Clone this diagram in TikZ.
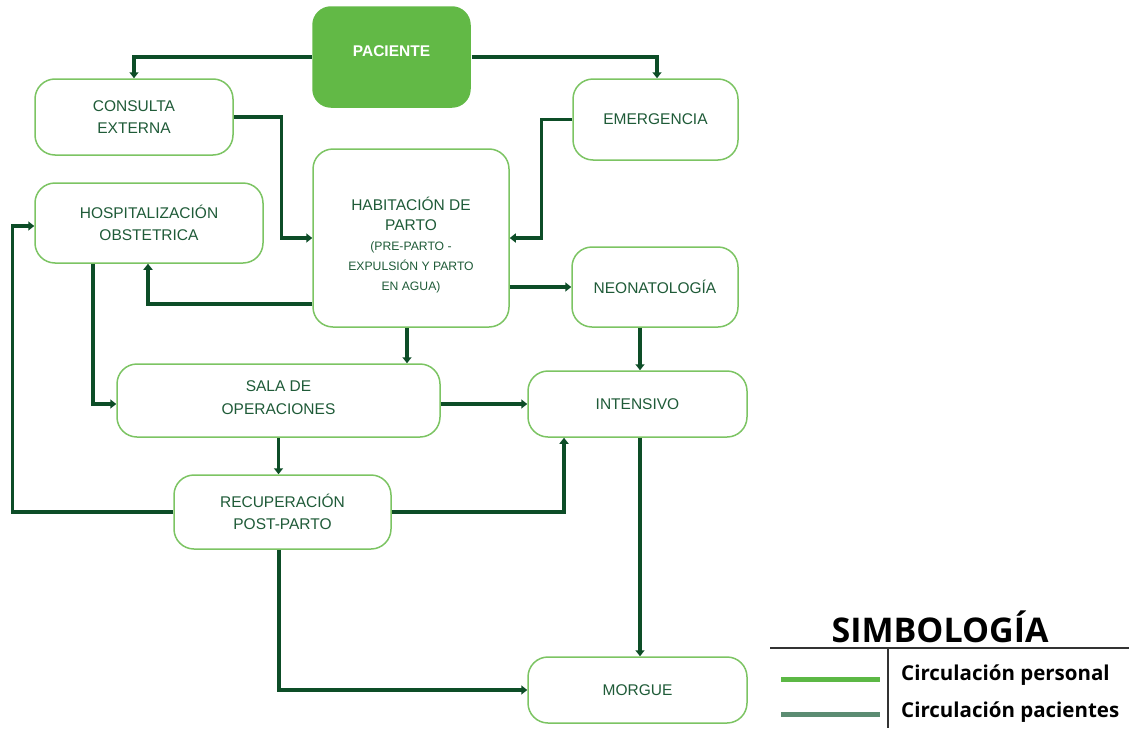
\documentclass[tikz,border=0pt]{standalone}
\usepackage{fontspec}
\setmainfont{Liberation Sans}
\newfontfamily\legendfont{Open Sans}
\usetikzlibrary{arrows.meta,calc}
\definecolor{boxline}{HTML}{7CC463}
\definecolor{boxfill}{HTML}{62B946}
\definecolor{flow}{HTML}{0D4D27}
\definecolor{txt}{HTML}{1F5B38}
\definecolor{staff}{HTML}{5CB845}
\definecolor{patient}{HTML}{5B8C72}
\definecolor{rule}{HTML}{333333}
% shift a label vertically inside its box while keeping the box itself in place
\newcommand\shiftlabel[2]{\raisebox{#1}[\dimexpr\height-(#1)\relax][\dimexpr\depth-(#1)\relax]{#2}}
\tikzset{
  area/.style={draw=boxline, line width=1.5pt, rounded corners=20pt, fill=white,
    align=center, text=txt, inner sep=0pt, font=\fontsize{15.5}{22.5}\selectfont},
  mainarea/.style={area, draw=boxfill, fill=boxfill, rounded corners=18pt, text=white,
    font=\fontsize{15.5}{18}\selectfont\bfseries},
  flowline/.style={draw=flow, line width=3.2pt,
    -{Triangle[width=9pt,length=6pt]}},
  keyline/.style={line width=5pt},
  keyrule/.style={draw=rule, line width=1.5pt},
  keytext/.style={font=\legendfont\fontsize{20.5}{22}\selectfont\bfseries, anchor=west, inner sep=0pt}
}
\begin{document}
\begin{tikzpicture}[x=1pt,y=-1pt]
\useasboundingbox (0,0) rectangle (1129,728);

% areas of the unit
\node[mainarea, minimum width=157pt, minimum height=100pt] (pac) at (391.5,57) {\shiftlabel{4pt}{PACIENTE}};
\node[area, minimum width=198pt, minimum height=76pt] (cons) at (134,117) {CONSULTA\\EXTERNA};
\node[area, minimum width=165pt, minimum height=81pt] (emer) at (655.5,119.5) {EMERGENCIA};
\node[area, minimum width=228pt, minimum height=80pt] (hosp) at (149,223) {HOSPITALIZACIÓN\\OBSTETRICA};
\node[area, minimum width=196pt, minimum height=178pt] (hab) at (411,238)
  {\fontsize{15.5}{20}\selectfont\shiftlabel{-8pt}{\begin{tabular}{@{}c@{}}HABITACIÓN DE\\
   PARTO\\
   \fontsize{12.2}{20}\selectfont (PRE-PARTO -\\
   \fontsize{12.2}{20}\selectfont EXPULSIÓN Y PARTO\\
   \fontsize{12.2}{20}\selectfont EN AGUA)\end{tabular}}};
\node[area, minimum width=166pt, minimum height=80pt] (neo) at (655,287) {NEONATOLOGÍA};
\node[area, minimum width=323pt, minimum height=73pt] (sala) at (278.5,400.5) {\shiftlabel{2pt}{\begin{tabular}{@{}c@{}}SALA DE\\[1pt] OPERACIONES\end{tabular}}};
\node[area, minimum width=219pt, minimum height=66pt] (int) at (637.5,404) {INTENSIVO};
\node[area, minimum width=217pt, minimum height=74pt] (rec) at (282.5,512) {RECUPERACIÓN\\POST-PARTO};
\node[area, minimum width=219pt, minimum height=66pt] (mor) at (637.5,690) {MORGUE};

% circulation between areas
\draw[flowline] ([xshift=-0.75pt]pac.west) -| (cons.north);
\draw[flowline] ([xshift=0.75pt]pac.east) -| ([xshift=1.5pt]emer.north);
\draw[flowline] (cons.east) -- ++(48,0) |- (hab.west);
\draw[flowline] (emer.west) -- ++(-31,0) |- (hab.east);
\draw[flowline] ([yshift=-66pt]hab.west) -| ([xshift=-1pt]hosp.south);
\draw[flowline] (hab.east |- neo.west) -- (neo.west);
\draw[flowline] ([xshift=-4pt]hab.south) -- ([xshift=-4pt]hab.south |- sala.north);
\draw[flowline] ([xshift=-56pt]hosp.south) |- ([yshift=-3.5pt]sala.west);
\draw[flowline] (int.west -| sala.east) -- (int.west);
\draw[flowline] ([xshift=2.5pt]int.north |- neo.south) -- ([xshift=2.5pt]int.north);
\draw[flowline] (sala.south) -- (sala.south |- rec.north);
\draw[flowline] (rec.east) -| ([xshift=-73.5pt]int.south);
\draw[flowline] (rec.west) -- ++(-161,0) |- ([yshift=-3pt]hosp.west);
\draw[flowline] ([xshift=2.5pt]int.south) -- ([xshift=2.5pt]mor.north);
\draw[flowline] ([xshift=-3.5pt]rec.south) |- (mor.west);

% legend
\node[font=\legendfont\fontsize{34}{36}\selectfont\bfseries, text=black, inner sep=0pt] (keytitle) at (940,627) {SIMBOLOGÍA};
\coordinate (hl) at (770,648);
\coordinate (hr) at (1129,648);
\coordinate (vt) at (888,648);
\coordinate (vb) at (888,728);
\draw[keyrule] (hl) -- (hr);
\draw[keyrule] (vt) -- (vb);
\coordinate (k1a) at (781,679); \coordinate (k1b) at (880,679);
\coordinate (k2a) at (781,714); \coordinate (k2b) at (880,714);
\draw[keyline, staff] (k1a) -- (k1b);
\draw[keyline, patient] (k2a) -- (k2b);
\node[keytext] (k1t) at (901,675) {Circulación personal};
\node[keytext] (k2t) at (901,712) {Circulación pacientes};
\end{tikzpicture}
\end{document}
